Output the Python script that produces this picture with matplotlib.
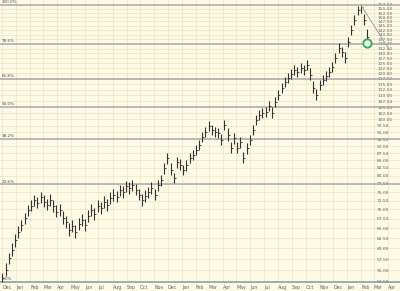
import numpy as np
import pandas as pd
import matplotlib
matplotlib.use("Agg")
import matplotlib.pyplot as plt
import matplotlib.dates as mdates
from matplotlib.ticker import NullLocator, FixedLocator, FixedFormatter

# weekly bars (high / low / close)
close = [53.3, 55.1, 57.8, 59.6, 62.0, 64.0, 65.8, 67.6, 69.9, 71.0,
         72.7, 71.9, 73.6, 72.1, 71.3, 72.7, 71.0, 69.3, 69.9, 67.6,
         66.6, 64.5, 65.6, 64.0, 66.1, 67.1, 65.8, 68.2, 69.9, 68.7,
         71.0, 70.4, 72.1, 71.3, 73.3, 74.2, 73.6, 75.6, 75.0, 76.8,
         76.2, 77.1, 75.6, 74.2, 72.7, 73.9, 75.0, 76.2, 74.2, 77.1,
         78.7, 82.5, 85.9, 81.9, 79.3, 84.5, 83.5, 81.9, 83.5, 85.9,
         86.9, 88.6, 90.4, 93.3, 95.2, 97.5, 96.0, 95.2, 94.8, 92.2,
         97.9, 94.0, 89.3, 92.9, 89.3, 91.4, 85.9, 89.3, 92.2, 96.0,
         99.9, 101.9, 102.7, 103.1, 105.6, 102.7, 107.3, 110.3, 113.4, 116.1,
         118.0, 119.9, 121.8, 120.8, 122.7, 121.8, 124.2, 119.4, 113.4, 110.3,
         114.7, 117.0, 118.9, 120.8, 123.2, 127.7, 132.8, 130.7, 127.7, 136.1,
         142.7, 148.5, 154.5, 156.3, 148.5, 138.9]
high = [54.5, 56.5, 59.0, 61.2, 63.4, 65.5, 67.2, 69.0, 71.3, 72.6,
        74.2, 73.5, 75.0, 74.0, 73.0, 74.3, 72.8, 71.2, 71.5, 69.6,
        68.3, 66.4, 67.2, 65.8, 67.6, 68.7, 67.5, 69.8, 71.4, 70.3,
        72.6, 72.0, 73.8, 73.0, 74.9, 75.9, 75.2, 77.2, 76.7, 78.5,
        77.9, 78.8, 77.5, 76.0, 74.4, 75.5, 76.6, 77.9, 76.0, 78.6,
        80.3, 84.2, 87.5, 84.0, 81.0, 86.2, 85.4, 83.6, 85.2, 87.5,
        88.6, 90.3, 92.2, 95.0, 97.0, 99.3, 98.0, 97.1, 96.7, 94.3,
        99.8, 96.5, 91.5, 94.8, 91.5, 93.3, 88.0, 91.0, 94.0, 97.9,
        101.8, 103.9, 104.8, 105.1, 107.6, 105.0, 109.4, 112.4, 115.6, 118.3,
        120.3, 122.2, 124.1, 123.2, 125.1, 124.2, 126.6, 122.5, 116.5, 112.8,
        117.0, 119.3, 121.2, 123.2, 125.6, 130.2, 135.4, 133.3, 130.5, 138.8,
        145.5, 151.4, 157.0, 157.5, 152.0, 143.0]
low = [52.5, 53.8, 56.4, 58.3, 60.4, 62.6, 64.3, 66.0, 68.2, 69.5,
       71.0, 70.4, 71.8, 70.6, 69.8, 71.0, 69.4, 67.8, 68.3, 66.0,
       65.0, 63.0, 64.0, 62.6, 64.5, 65.5, 64.3, 66.5, 68.2, 67.1,
       69.3, 68.8, 70.5, 69.7, 71.6, 72.5, 72.0, 73.9, 73.3, 75.0,
       74.5, 75.3, 74.0, 72.6, 71.1, 72.2, 73.3, 74.5, 72.6, 75.2,
       76.9, 80.5, 83.9, 80.2, 77.6, 82.4, 81.8, 80.2, 81.6, 84.0,
       85.0, 86.7, 88.5, 91.3, 93.2, 95.5, 94.0, 93.3, 92.8, 90.3,
       95.8, 92.0, 87.4, 90.9, 87.5, 89.4, 84.2, 87.3, 90.2, 93.9,
       97.8, 99.8, 100.6, 101.0, 103.4, 100.7, 105.1, 108.0, 111.1, 113.8,
       115.6, 117.5, 119.3, 118.4, 120.2, 119.3, 121.7, 117.0, 111.1, 108.0,
       112.3, 114.6, 116.5, 118.4, 120.7, 125.1, 130.1, 128.0, 125.1, 133.3,
       139.8, 145.5, 151.4, 152.5, 145.5, 137.5]

fib_pcts = [0.0, 23.6, 38.2, 50.0, 61.8, 78.6, 100.0]
price_ticks = np.arange(52.5, 157.6, 2.5)

trend_dates = ["2014-01-31", "2014-04-04"]
trend_prices = [157.5, 131.8]
last_mark = 135.5

dates = pd.date_range("2011-12-02", periods=len(close), freq="W-FRI")

fig = plt.figure(figsize=(4, 2.91), dpi=100, facecolor="#fcf9e4")
ax = fig.add_axes([0, 8 / 291, 1, 283 / 291])
ax.set_facecolor("#fcf9e4")
ax.set_yscale("log")
ax.set_ylim(52.29, 160.6)
ax.set_xlim(pd.Timestamp("2011-11-26 14:00"), pd.Timestamp("2014-04-27 14:00"))

for s in ax.spines.values():
    s.set_visible(False)

# grid
ax.yaxis.set_major_locator(FixedLocator(price_ticks))
ax.yaxis.set_major_formatter(FixedFormatter([f"{t:.2f}" for t in price_ticks]))
ax.yaxis.set_minor_locator(NullLocator())
ax.xaxis.set_major_locator(mdates.MonthLocator())
ax.xaxis.set_major_formatter(mdates.DateFormatter("%b"))
ax.grid(True, color="#ece5c6", lw=0.5)
ax.set_axisbelow(True)
ax.yaxis.tick_right()
ax.tick_params(axis="y", length=0, pad=-16.5, labelsize=3.2, labelcolor="#666666")
ax.tick_params(axis="x", length=0, pad=1.5, labelsize=3.4, labelcolor="#666666")
for lab in ax.get_xticklabels():
    lab.set_horizontalalignment("left")
for lab in ax.get_yticklabels():
    lab.set_horizontalalignment("left")

# fibonacci retracement lines
lo_p, hi_p = min(low), max(high)
for p in fib_pcts:
    lvl = lo_p + (hi_p - lo_p) * p / 100
    col = "#7f9fa2" if p == 0 else "#a9a9a9"
    ax.axhline(lvl, color=col, lw=1.1, zorder=2)
    ax.text(0.005, lvl * 1.003, f"{p:.1f}%", transform=ax.get_yaxis_transform(),
            fontsize=3, color="#555555", va="bottom", ha="left")

# price bars
ax.vlines(dates, low, high, color="#333333", lw=0.8, zorder=3)
ax.plot(dates, close, ls="none", marker=1, ms=1.5, mew=0.6, color="#333333", zorder=3)

# trend line and marker on last price
ax.plot(pd.to_datetime(trend_dates), trend_prices, color="#a0a0a0", lw=0.7, zorder=3)
ax.plot(dates[-1:], [last_mark], marker="o", ms=6, mfc="#eaf7e6", mec="#2fa85a",
        mew=1.3, zorder=4)

fig.savefig("out.png", dpi=100, facecolor=fig.get_facecolor())
